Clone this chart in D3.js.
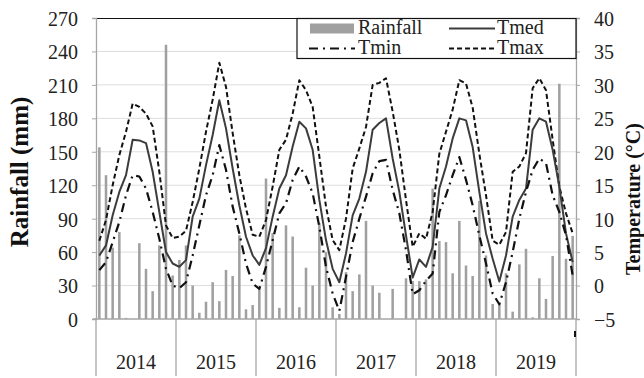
<!DOCTYPE html>
<html>
<head>
<meta charset="utf-8">
<script src="https://d3js.org/d3.v7.min.js"></script>
<style>
	body { margin: 0; background: #fff; }
	svg { display: block; }
</style>
</head>
<body>
<script>
//------------------------------- data -------------------------------
var years = ["2014", "2015", "2016", "2017", "2018", "2019"];
var rainTicks = [0, 30, 60, 90, 120, 150, 180, 210, 240, 270];
var tempTicks = [-5, 0, 5, 10, 15, 20, 25, 30, 35, 40];

// monthly rainfall (mm), Jan 2014 -> Dec 2019
var rainfall = [
	154, 129, 64, 78, 1, 0, 68, 45, 25, 66, 246, 39,
	53, 66, 30, 5.6, 15.5, 33, 16, 44, 38.6, 75, 8.7, 12.5,
	27, 126, 77, 10, 84, 74, 10.5, 46, 30, 86, 60, 10.5,
	4.5, 42, 25, 40, 88, 30, 23.6, 0, 27, 0, 36.5, 34,
	34, 35.5, 117, 70, 69, 41, 88, 48, 38.6, 106, 57, 13.5,
	14, 41, 6.6, 49, 63, 1.5, 36.5, 18, 56.5, 211, 54, 74.5
];

var tmax = [
	6.7, 9.8, 15, 19.5, 23, 27.2, 26.7, 25.7, 23.8, 17, 9, 7.1,
	7.3, 8.2, 12.5, 17.5, 23, 27.8, 33.3, 29.7, 22.8, 16.5, 11.5, 7.6,
	7.3, 9.8, 14.8, 20.3, 21.8, 25.7, 30.7, 29.2, 26.7, 19.3, 11.8, 6.8,
	5.3, 10, 17.5, 20.5, 23.7, 30, 30.3, 31, 26, 20.3, 12.8, 5.8,
	7.8, 7, 11, 19.7, 23, 26.3, 30.7, 30.2, 26.6, 19.7, 13.5, 6.7,
	6.1, 8, 17, 17.8, 19.8, 29.5, 31, 29.2, 21.8, 14.8, 10.8, 7.8
];

var tmed = [
	4.5, 6, 10.5, 14, 16.5, 21.8, 21.7, 21.3, 17, 11, 5, 3.3,
	2.8, 3.8, 10.3, 13, 18, 22.5, 27.7, 23.5, 17.5, 12, 7.3, 4.5,
	3.1, 5.6, 10.3, 14.5, 16.5, 20.8, 24.5, 23.5, 20.3, 12.8, 6.8, 2.5,
	0.5, 4.8, 10.5, 13, 17, 23.3, 24.3, 25, 19, 14, 7.5, 1.2,
	3.9, 2.8, 5.8, 14.5, 17.8, 22, 25, 24.7, 20.7, 14, 7.8, 4,
	0.6, 4.5, 10.3, 12.8, 14.5, 23.3, 25, 24.5, 20.3, 14.8, 7.8, 3.5
];

var tmin = [
	2.3, 3.5, 6.5, 9.5, 13.5, 16.5, 16.3, 14.5, 11, 7, 2.5, 0,
	-0.4, 0.5, 4.5, 9, 13.5, 16.5, 21, 17.3, 11.8, 7.8, 3.3, 0.3,
	-0.5, 2.8, 6.8, 10.8, 12.3, 15.8, 17.8, 16.3, 13.8, 8.8, 2.8, -1.2,
	-3.8, 1.3, 6.5, 10, 13.3, 16.8, 18.6, 18.8, 14.3, 10.8, 5.3, -1.3,
	-0.7, 0.7, 1.8, 11, 13.5, 16.5, 19.2, 15.8, 12, 7.5, 3.3, -1.2,
	-2.8, 0.5, 5, 10, 14, 17.3, 19, 18.3, 13.5, 11, 7.5, 1.5
];
//-------------------------------------------------------------------------------------------

var W = 644, H = 378;
// plot area edges (note: "top" is reserved by the window object, so prefixed names)
var plotLeft = 96, plotRight = 576, plotTop = 18, plotBottom = 319;
var serif = "'Liberation Serif', 'Times New Roman', serif";
var axisGray = "#a6a6a6";

var svg = d3.select("body").append("svg")
	.attr("width", W)
	.attr("height", H);

// scales
var x = d3.scaleBand()
	.domain(d3.range(rainfall.length))
	.range([plotLeft, plotRight])
	.paddingInner(0.62)
	.paddingOuter(0.31);

var xYear = d3.scaleBand().domain(years).range([plotLeft, plotRight]);

var yRain = d3.scaleLinear().domain([0, 270]).range([plotBottom, plotTop]);
var yTemp = d3.scaleLinear().domain([-5, 40]).range([plotBottom, plotTop]);

// gridlines
svg.append("g")
	.selectAll("line")
	.data(rainTicks.filter(d => d > 0 && d < 270))
	.join("line")
	.attr("x1", plotLeft).attr("x2", plotRight)
	.attr("y1", d => yRain(d)).attr("y2", d => yRain(d))
	.attr("stroke", "#dedede")
	.attr("stroke-width", 1);

// rainfall bars
svg.append("g")
	.selectAll("rect")
	.data(rainfall)
	.join("rect")
	.attr("x", (d, i) => x(i))
	.attr("width", x.bandwidth())
	.attr("y", d => yRain(d))
	.attr("height", d => yRain(0) - yRain(d))
	.attr("fill", "#a0a0a0");

// temperature lines
function tempLine(values, color, width, dash) {
	var line = d3.line()
		.x((d, i) => x(i) + x.bandwidth() / 2)
		.y(d => yTemp(d));
	svg.append("path")
		.datum(values)
		.attr("d", line)
		.attr("fill", "none")
		.attr("stroke", color)
		.attr("stroke-width", width)
		.attr("stroke-dasharray", dash)
		.attr("stroke-linejoin", "round");
}
tempLine(tmax, "#111", 2, "5,3");
tempLine(tmed, "#3c3c3c", 2, null);
tempLine(tmin, "#111", 2.2, "9,5,2,5");

// top border of the plot area
svg.append("line")
	.attr("x1", plotLeft).attr("x2", plotRight)
	.attr("y1", plotTop + 0.5).attr("y2", plotTop + 0.5)
	.attr("stroke", "#111").attr("stroke-width", 1.2);

// left axis
var axL = svg.append("g")
	.attr("transform", "translate(" + plotLeft + ",0)")
	.call(d3.axisLeft(yRain).tickValues(rainTicks).tickSize(4).tickPadding(14));

// right axis
var axR = svg.append("g")
	.attr("transform", "translate(" + plotRight + ",0)")
	.call(d3.axisRight(yTemp).tickValues(tempTicks).tickSize(4).tickPadding(14));

[axL, axR].forEach(function(ax) {
	ax.attr("font-family", null).attr("font-size", null);
	ax.select(".domain").attr("stroke", axisGray).attr("stroke-width", 1.3);
	ax.selectAll(".tick line").attr("stroke", axisGray);
	ax.selectAll(".tick text")
		.attr("dy", "0.37em")
		.attr("fill", "#222");
});

// category axis with year groups
svg.append("line")
	.attr("x1", plotLeft - 3).attr("x2", plotRight)
	.attr("y1", plotBottom).attr("y2", plotBottom)
	.attr("stroke", axisGray).attr("stroke-width", 1.3);

svg.append("g")
	.selectAll("line")
	.data(years.map(d => xYear(d)).concat([plotRight]))
	.join("line")
	.attr("x1", d => d).attr("x2", d => d)
	.attr("y1", plotBottom).attr("y2", H - 2)
	.attr("stroke", axisGray).attr("stroke-width", 1.3);

svg.append("g")
	.selectAll("text")
	.data(years)
	.join("text")
	.attr("x", d => xYear(d) + xYear.bandwidth() / 2)
	.attr("y", 369)
	.attr("text-anchor", "middle")
	.attr("fill", "#222")
	.text(d => d);

// axis titles
svg.append("text")
	.attr("class", "title")
	.attr("transform", "translate(28,172) rotate(-90)")
	.attr("text-anchor", "middle")
	.attr("fill", "#111")
	.style("font-size", "25px")
	.style("font-weight", "bold")
	.text("Rainfall (mm)");

svg.append("text")
	.attr("class", "title")
	.attr("transform", "translate(640,199) rotate(-90)")
	.attr("text-anchor", "middle")
	.attr("fill", "#111")
	.style("font-size", "20px")
	.style("font-weight", "bold")
	.text("Temperature (°C)");

// legend box
var lg = svg.append("g");
lg.append("rect")
	.attr("x", 297).attr("y", plotTop + 0.5)
	.attr("width", plotRight - 297).attr("height", 40)
	.attr("fill", "#fff")
	.attr("stroke", "#111").attr("stroke-width", 1.2);

lg.append("rect")
	.attr("x", 310).attr("y", 23.5)
	.attr("width", 44).attr("height", 10)
	.attr("fill", "#a0a0a0");

function legendLine(x0, y0, color, dash) {
	lg.append("line")
		.attr("x1", x0).attr("x2", x0 + 46)
		.attr("y1", y0).attr("y2", y0)
		.attr("stroke", color).attr("stroke-width", 2.2)
		.attr("stroke-dasharray", dash);
}
legendLine(449, 28.5, "#3c3c3c", null);
legendLine(309, 48.5, "#111", "9,5,2,5");
legendLine(449, 48.5, "#111", "5,3");

var legendTexts = [
	{t: "Rainfall", x: 358, y: 34},
	{t: "Tmed", x: 497, y: 34},
	{t: "Tmin", x: 358, y: 54},
	{t: "Tmax", x: 497, y: 54}
];
lg.selectAll("text.lab")
	.data(legendTexts)
	.join("text")
	.attr("class", "lab")
	.attr("x", d => d.x).attr("y", d => d.y)
	.attr("fill", "#222")
	.text(d => d.t);

// same serif face on every text, set inline so nothing (axis defaults included) overrides it
svg.selectAll("text")
	.style("font-family", serif)
	.filter(function() { return !this.classList.contains("title"); })
	.style("font-size", "20px");

// small stray mark below the right axis end, as in the original
svg.append("line")
	.attr("x1", 575).attr("x2", 575)
	.attr("y1", 331).attr("y2", 337)
	.attr("stroke", "#111").attr("stroke-width", 2);
</script>
</body>
</html>
